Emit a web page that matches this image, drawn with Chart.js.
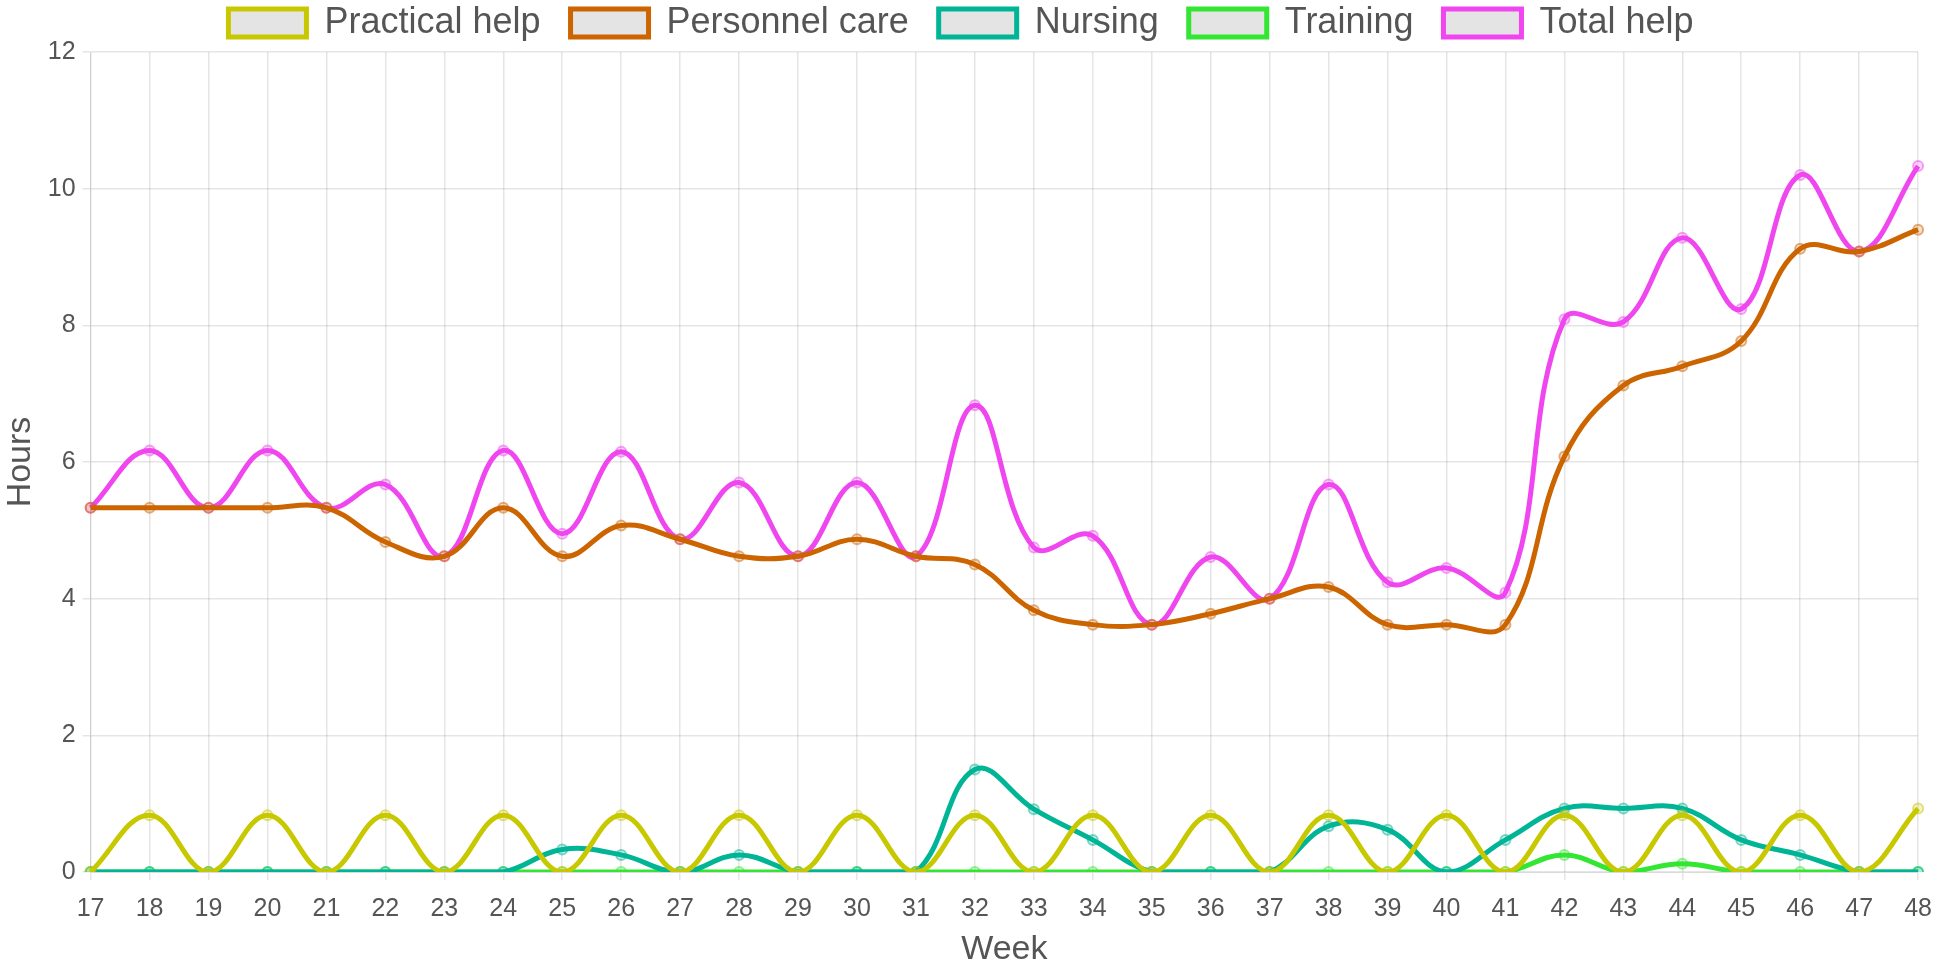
<!DOCTYPE html>
<html>
<head>
<meta charset="utf-8">
<script src="https://cdn.jsdelivr.net/npm/chart.js@4"></script>
<style>
  html, body { margin: 0; padding: 0; background: #fff; }
  #wrap { width: 1946px; height: 961px; }
</style>
</head>
<body>
<div id="wrap"><canvas id="lineChart"></canvas></div>
<script>
const weeks = ['17','18','19','20','21','22','23','24','25','26','27','28','29','30','31','32',
               '33','34','35','36','37','38','39','40','41','42','43','44','45','46','47','48'];

const practicalHelp = [0,0.83,0,0.83,0,0.83,0,0.83,0,0.83,0,0.83,0,0.83,0,0.83,
                       0,0.83,0,0.83,0,0.83,0,0.83,0,0.83,0,0.83,0,0.83,0,0.93];
const personnelCare = [5.33,5.33,5.33,5.33,5.33,4.83,4.62,5.33,4.62,5.07,4.87,4.62,4.62,4.87,4.62,4.5,
                       3.83,3.62,3.62,3.78,4.0,4.17,3.62,3.62,3.62,6.08,7.12,7.4,7.77,9.12,9.08,9.4];
const nursing       = [0,0,0,0,0,0,0,0,0.33,0.25,0,0.25,0,0,0,1.5,
                       0.92,0.47,0,0,0,0.67,0.62,0,0.47,0.93,0.93,0.93,0.47,0.25,0,0];
const training      = [0,0,0,0,0,0,0,0,0,0,0,0,0,0,0,0,
                       0,0,0,0,0,0,0,0,0,0.25,0,0.12,0,0,0,0];
const totalHelp     = [5.33,6.17,5.33,6.17,5.33,5.67,4.62,6.17,4.95,6.15,4.87,5.70,4.62,5.70,4.62,6.83,
                       4.75,4.92,3.62,4.61,4.0,5.67,4.24,4.45,4.09,8.09,8.05,9.28,8.24,10.2,9.08,10.33];

const yTicks = [0, 2, 4, 6, 8, 10, 12];

function series(label, data, rgb) {
  return {
    label: label,
    data: data,
    borderColor: `rgb(${rgb})`,
    backgroundColor: '#e4e4e4',
    borderWidth: 5,
    tension: 0.4,
    fill: false,
    pointRadius: 5,
    pointBorderWidth: 2,
    pointBackgroundColor: `rgba(${rgb},0.2)`,
    pointBorderColor: `rgba(${rgb},0.5)`
  };
}

// wide gaps between legend items but a short legend box
const legendGap = 30;
const legendTweak = {
  id: 'legendTweak',
  beforeLayout(chart) {
    const lg = chart.legend;
    if (!lg || lg._tweaked) return;
    lg._tweaked = true;
    const fit = lg.fit;
    lg.fit = function () { fit.call(this); this.height = 52; };
    const inner = lg._draw;
    lg._draw = function () {
      const c = this.ctx;
      c.save();
      c.translate(0, 5 - legendGap);
      inner.call(this);
      c.restore();
    };
  }
};

const ctx = document.getElementById('lineChart').getContext('2d');
new Chart(ctx, {
  type: 'line',
  data: {
    labels: weeks,
    datasets: [
      series('Practical help', practicalHelp, '200,200,0'),
      series('Personnel care', personnelCare, '204,100,0'),
      series('Nursing', nursing, '0,180,150'),
      series('Training', training, '50,230,50'),
      series('Total help', totalHelp, '240,70,240')
    ]
  },
  plugins: [legendTweak],
  options: {
    responsive: true,
    maintainAspectRatio: false,
    animation: false,
    layout: { padding: { right: 24 } },
    plugins: {
      tooltip: { enabled: false },
      legend: {
        position: 'top',
        labels: {
          boxWidth: 78,
          boxHeight: 28,
          padding: legendGap,
          color: '#555',
          font: { family: 'Liberation Sans', size: 36 }
        }
      }
    },
    scales: {
      x: {
        grid: { color: 'rgba(0,0,0,0.1)', lineWidth: 1.5 },
        ticks: { color: '#555', font: { family: 'Liberation Sans', size: 25 }, maxRotation: 0, autoSkip: false, padding: 14 },
        title: { display: true, text: 'Week', color: '#555', font: { family: 'Liberation Sans', size: 34, lineHeight: 1 }, padding: { top: -5, bottom: -6 } }
      },
      y: {
        min: 0,
        max: 12,
        afterBuildTicks: axis => { axis.ticks = yTicks.map(v => ({ value: v })); },
        grid: { color: 'rgba(0,0,0,0.1)', lineWidth: 1.5 },
        ticks: { color: '#555', font: { family: 'Liberation Sans', size: 25 }, padding: 7 },
        title: { display: true, text: 'Hours', color: '#555', font: { family: 'Liberation Sans', size: 34 }, padding: 0 }
      }
    }
  }
});
</script>
</body>
</html>
